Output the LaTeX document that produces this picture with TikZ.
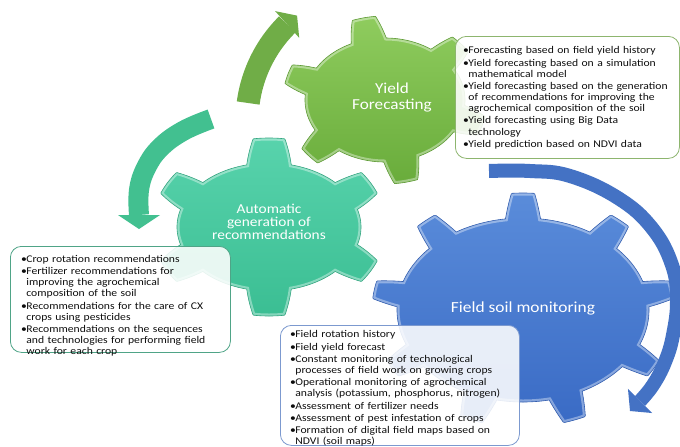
\documentclass[tikz,border=0pt]{standalone}
\usepackage{fontspec}
\setmainfont{Carlito}[FakeStretch=1.13]
\usetikzlibrary{calc}
\definecolor{gTop}{HTML}{8FCC5E}
\definecolor{gBot}{HTML}{69AC3B}
\definecolor{gDark}{HTML}{5E9A35}
\definecolor{tTop}{HTML}{58D3AC}
\definecolor{tBot}{HTML}{3BBE93}
\definecolor{tDark}{HTML}{34A580}
\definecolor{bTop}{HTML}{5A8CDA}
\definecolor{bBot}{HTML}{3A6BC5}
\definecolor{bDark}{HTML}{345FB0}
\definecolor{gArr}{HTML}{70AD47}
\definecolor{tArr}{HTML}{42C090}
\definecolor{bArr}{HTML}{4472C4}
\definecolor{gBox}{HTML}{8DB56E}
\definecolor{tBox}{HTML}{4FA487}
\definecolor{bBox}{HTML}{7C99CF}
\definecolor{ink}{HTML}{0E0E0E}
\newcommand\bitem{\par\hangindent=5.2pt\relax\hangafter=1\relax\noindent\makebox[5.2pt][l]{•}\strut\ignorespaces}
\newcommand\bstart{\setlength{\parskip}{1.2pt}\relax}
% gear outline: cx cy rx ry h n offset tiphalf basehalf
\newcommand\gearplot[9]{plot[domain=0:360, samples=721, variable=\t]
  ({#1+(#3+#5*gp(\t,#6,#7,#8,#9))*cos(\t)},{#2+(#4+#5*gp(\t,#6,#7,#8,#9))*sin(\t)}) -- cycle}
\begin{document}
\begin{tikzpicture}[x=1pt,y=-1pt,
  declare function={gp(\a,\b,\c,\d,\e)=min(1,max(0,(\e-abs(Mod(\a-\c+180/\b,360/\b)-180/\b))/(\e-\d)));},
  gtext/.style={text=white, align=center, inner sep=0pt},
  rim/.style={white, opacity=0.38, line width=5pt},
  box/.style={rounded corners=11pt, fill=white, fill opacity=0.88, line width=0.8pt, anchor=north west, inner sep=0pt},
  btext/.style={anchor=north west, inner sep=0pt, text width=#1, align=left, text=ink,
     font=\fontsize{10.3}{11.1}\selectfont},
]
\useasboundingbox (0,0) rectangle (680,447);
\fill[white] (0,0) rectangle (680,447);

% teal gear
\path[top color=tTop, bottom color=tBot] \gearplot{269}{227}{92}{64}{25}{6}{270}{7.8}{14};
\begin{scope}
  \clip \gearplot{269}{227}{92}{64}{25}{6}{270}{7.8}{14};
  \draw[rim] \gearplot{269}{227}{92}{64}{25}{6}{270}{7.8}{14};
\end{scope}
\draw[tDark, line width=0.6pt] \gearplot{269}{227}{92}{64}{25}{6}{270}{7.8}{14};
% green gear
\path[top color=gTop, bottom color=gBot] \gearplot{385}{100}{80}{62}{22}{6}{18}{6.7}{12.9};
\begin{scope}
  \clip \gearplot{385}{100}{80}{62}{22}{6}{18}{6.7}{12.9};
  \draw[rim] \gearplot{385}{100}{80}{62}{22}{6}{18}{6.7}{12.9};
\end{scope}
\draw[gDark, line width=0.6pt] \gearplot{385}{100}{80}{62}{22}{6}{18}{6.7}{12.9};
% blue gear
\path[top color=bTop, bottom color=bBot] \gearplot{523}{310}{126}{92}{25}{9}{270}{4.4}{8};
\begin{scope}
  \clip \gearplot{523}{310}{126}{92}{25}{9}{270}{4.4}{8};
  \draw[rim] \gearplot{523}{310}{126}{92}{25}{9}{270}{4.4}{8};
\end{scope}
\draw[bDark, line width=0.6pt] \gearplot{523}{310}{126}{92}{25}{9}{270}{4.4}{8};

% gear labels
\node[gtext, font=\fontsize{15.2}{16}\selectfont] (lblY) at (392,98) {Yield\\Forecasting};
\node[gtext, font=\fontsize{13.6}{13.2}\selectfont] (lblA) at (269,222) {Automatic\\generation of\\recommendations};
\node[gtext, font=\fontsize{15.4}{16}\selectfont] (lblF) at (523,308) {Field soil monitoring};

% green arrow
\draw[gArr, line width=23pt] plot[domain=187.6:225.2, samples=40, variable=\t] ({383+136*cos(\t)},{121+136*sin(\t)});
\coordinate (gE) at ({383+136*cos(225.2)},{121+136*sin(225.2)});
\coordinate (gT) at ({383+136*cos(230.8)},{121+136*sin(230.8)});
\fill[gArr] ($(gE)!18pt!90:(gT)$) -- (gT) -- ($(gE)!18pt!-90:(gT)$) -- cycle;

% teal arrow
\draw[tArr, line width=20pt] plot[smooth, tension=0.7] coordinates {(211,119) (183,131) (160,148) (146,168) (139,190) (139,215)};
\coordinate (tE) at (139,215);
\coordinate (tT) at (139,229);
\fill[tArr] ($(tE)!21pt!90:(tT)$) -- (tT) -- ($(tE)!21pt!-90:(tT)$) -- cycle;

% blue arrow
\draw[bArr, line width=14pt] plot[smooth, tension=0.7] coordinates {(489,171) (530,171) (570,176) (618,198) (652,228) (672,265) (677,300) (673,335) (665,362) (653,385) (640,401)};
\coordinate (bE) at (640,401);
\coordinate (bT) at (630,411);
\fill[bArr] ($(bE)!17pt!90:(bT)$) -- (bT) -- ($(bE)!17pt!-90:(bT)$) -- cycle;

% boxes
\node[box, draw=gBox, minimum width=224pt, minimum height=122pt] (boxY) at (455,36) {};
\node[box, draw=tBox, minimum width=220pt, minimum height=106pt] (boxA) at (10,246) {};
\node[box, draw=bBox, minimum width=239pt, minimum height=120pt] (boxF) at (280,325) {};

\node[btext=214pt] (txtY) at (463,41.2) {\bstart
\bitem Forecasting based on field yield history
\bitem Yield forecasting based on a simulation\newline mathematical model
\bitem Yield forecasting based on the generation\newline of recommendations for improving the\newline agrochemical composition of the soil
\bitem Yield forecasting using Big Data\newline technology
\bitem Yield prediction based on NDVI data\par};

\node[btext=205pt] (txtA) at (21,249.7) {\bstart
\bitem Crop rotation recommendations
\bitem Fertilizer recommendations for\newline improving the agrochemical\newline composition of the soil
\bitem Recommendations for the care of CX\newline crops using pesticides
\bitem Recommendations on the sequences\newline and technologies for performing field\newline work for each crop\par};

\node[btext=228pt] (txtF) at (290,325.2) {\bstart
\bitem Field rotation history
\bitem Field yield forecast
\bitem Constant monitoring of technological\newline processes of field work on growing crops
\bitem Operational monitoring of agrochemical\newline analysis (potassium, phosphorus, nitrogen)
\bitem Assessment of fertilizer needs
\bitem Assessment of pest infestation of crops
\bitem Formation of digital field maps based on\newline NDVI (soil maps)\par};
\end{tikzpicture}
\end{document}
